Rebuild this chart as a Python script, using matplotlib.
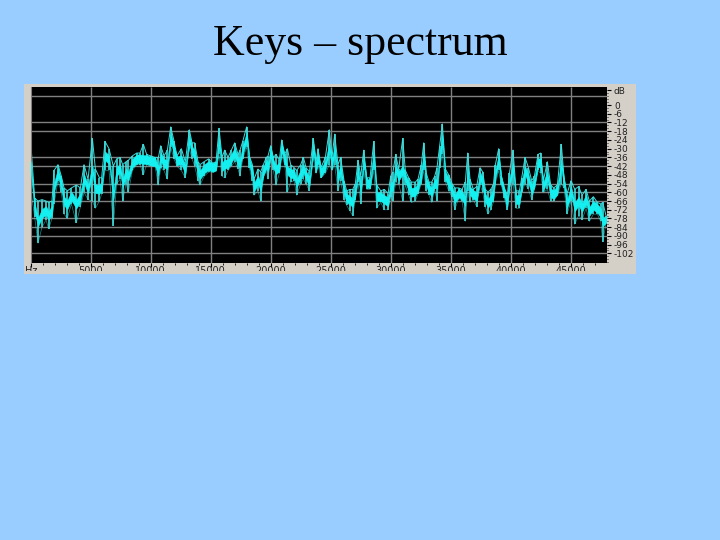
import matplotlib
matplotlib.use("Agg")
import matplotlib.pyplot as plt
import numpy as np
from matplotlib.patches import Rectangle
from matplotlib.transforms import Bbox

# top and bottom of the trace at each frequency
freq = [0, 330, 610, 940, 1275, 1500, 1775, 1945, 2275, 2555, 2780, 3055, 3390, 3805, 4140, 4445, 4780, 5140, 5390, 5725,
        5915, 6190, 6525, 6885, 7165, 7445, 7665, 7945, 8140, 8470, 8835, 9110, 9390, 9665, 10000, 10360, 10640, 10835, 11110, 11390, 11670, 11945,
        12190, 12555, 12885, 13220, 13445, 13665, 13945, 14110, 14445, 14835, 15165, 15445, 15695, 15945, 16165, 16445, 16725, 17000, 17280, 17445, 17670,
        17995, 18220, 18470, 18610, 18940, 19165, 19385, 19640, 19775, 20000, 20220, 20445, 20720, 20915, 21165, 21390, 21665, 21945, 22165, 22500, 22725, 22945, 23225, 23555, 23780, 23945,
        24190, 24555, 24885, 25110, 25330, 25610, 25830, 26110, 26330, 26610, 26835, 27055, 27280, 27500, 27750, 28000, 28280, 28585, 28835, 29170, 29475, 29780, 30000,
        30190, 30415, 30665, 31000, 31220, 31500, 31720, 32055, 32275, 32555, 32750, 32970, 33195, 33415, 33665, 33860, 34085, 34305, 34555, 34835, 35110, 35335, 35670, 35945,
        36220, 36415, 36610, 36885, 37165, 37445, 37665, 37890, 38110, 38330, 38555, 38720, 39000, 39220, 39470, 39720, 39890, 40195, 40445, 40725, 40920, 41195, 41475, 41750, 41975,
        42275, 42500, 42720, 43055, 43330, 43580, 43890, 44220, 44445, 44695, 45030, 45335, 45665, 45945, 46280, 46555, 46890, 47225, 47500, 47670, 47945]
top_db = [-25, -64, -66, -65, -66, -67, -66, -45, -41, -49, -57, -59, -57, -55, -57, -41, -51, -23, -44, -50,
          -50, -25, -30, -42, -37, -36, -41, -39, -38, -35, -33, -33, -27, -34, -35, -36, -36, -28, -35, -31, -15, -25,
          -35, -30, -39, -17, -26, -26, -39, -41, -39, -37, -40, -39, -16, -36, -31, -36, -31, -26, -34, -31, -25,
          -15, -35, -41, -51, -44, -46, -41, -36, -35, -28, -36, -34, -38, -24, -34, -30, -41, -43, -45, -41, -36, -43, -46, -23, -39, -30,
          -43, -36, -17, -36, -20, -41, -36, -52, -59, -58, -58, -54, -38, -49, -31, -50, -50, -25, -55, -59, -58, -61, -49,
          -46, -34, -44, -23, -45, -50, -53, -53, -51, -41, -26, -47, -53, -53, -49, -43, -28, -13, -44, -48, -54, -57, -57, -58,
          -53, -33, -51, -58, -56, -43, -46, -58, -60, -58, -55, -41, -30, -49, -57, -62, -47, -31, -59, -59, -50, -36, -43, -52, -49,
          -34, -33, -52, -39, -55, -57, -55, -27, -50, -61, -52, -58, -56, -62, -58, -66, -63, -67, -68, -67, -76]
bottom_db = [-58, -77, -95, -84, -79, -85, -78, -68, -52, -60, -75, -78, -68, -81, -70, -60, -65, -66, -71, -66,
             -61, -45, -45, -83, -54, -51, -66, -54, -60, -45, -41, -41, -48, -41, -42, -42, -55, -43, -45, -51, -29, -37,
             -42, -45, -50, -30, -37, -42, -52, -55, -49, -46, -46, -45, -34, -49, -50, -45, -42, -39, -44, -49, -37,
             -29, -43, -52, -62, -59, -66, -50, -45, -51, -37, -45, -55, -47, -34, -41, -60, -53, -52, -62, -54, -51, -54, -59, -36, -47, -41,
             -50, -47, -41, -45, -41, -59, -52, -65, -69, -73, -76, -65, -53, -68, -45, -58, -58, -45, -71, -67, -72, -72, -63,
             -66, -53, -54, -66, -55, -62, -67, -66, -61, -54, -45, -59, -62, -67, -58, -66, -43, -34, -53, -59, -63, -72, -64, -66,
             -80, -59, -67, -65, -70, -55, -60, -70, -75, -72, -67, -54, -45, -55, -64, -72, -60, -54, -71, -71, -60, -54, -58, -65, -58,
             -45, -47, -60, -58, -66, -66, -62, -54, -57, -75, -66, -82, -76, -79, -71, -80, -75, -75, -80, -94, -81]

x_ticks = [0, 5000, 10000, 15000, 20000, 25000, 30000, 35000, 40000, 45000]
x_labels = ["Hz", "5000", "10000", "15000", "20000", "25000", "30000", "35000", "40000", "45000"]
x_grid = [5000, 10000, 15000, 20000, 25000, 30000, 35000, 40000, 45000]
db_ticks = [10, 0, -6, -12, -18, -24, -30, -36, -42, -48, -54, -60, -66, -72, -78, -84, -90, -96, -102]
db_labels = ["dB", "0", "-6", "-12", "-18", "-24", "-30", "-36", "-42", "-48", "-54", "-60", "-66", "-72", "-78", "-84", "-90", "-96", "-102"]
db_grid = [6, -12, -18, -36, -42, -54, -60, -66, -78, -84, -90, -102]

W, H = 720, 540
fig = plt.figure(figsize=(W / 100, H / 100), dpi=100, facecolor="#99ccff")
fig.text(0.5, 1 - 44.5 / H, "Keys \u2013 spectrum", ha="center", va="center",
         family="Liberation Serif", fontsize=31.6, color="black")

# grey window of the audio editor
fig.add_artist(Rectangle((24 / W, 1 - 274 / H), 612 / W, 190 / H, transform=fig.transFigure,
                         facecolor="#d4d0c8", edgecolor="none", zorder=-1))

ax = fig.add_axes([30.7 / W, 1 - 263 / H, (607 - 30.7) / W, 176 / H], facecolor="black", zorder=2)
ax.set_xlim(0, 48025)
ax.set_ylim(-108.6, 12.4)

ax.hlines(db_grid, 0, 48025, color="#808080", lw=1, zorder=1)
ax.vlines(x_grid, -108.6, 12.4, color="#808080", lw=1, zorder=1)

# spikes and edges of the trace, then a solid core along its middle
top = np.array(top_db, dtype=float)
bottom = np.array(bottom_db, dtype=float)
mid = (top + bottom) / 2
core_hi = np.minimum(mid + 3, top)
core_lo = np.maximum(mid - 3, bottom)
ax.vlines(freq, bottom, top, color="#3fdcdc", lw=1.2, zorder=2)
ax.plot(freq, top, color="#3fdcdc", lw=0.7, zorder=2)
ax.plot(freq, bottom, color="#3fdcdc", lw=0.5, alpha=0.6, zorder=2)
ax.fill_between(freq, core_lo, core_hi, color="#14f0f0", lw=0.4, zorder=3)

ax.set_xticks(x_ticks)
ax.set_xticklabels(x_labels)
ax.set_xticks(np.arange(0, 48000, 1000), minor=True)
ax.yaxis.tick_right()
ax.set_yticks(db_ticks)
ax.set_yticklabels(db_labels)
ax.set_yticks(np.arange(-108, 12, 2), minor=True)
ax.tick_params(axis="x", which="major", length=3, width=0.8, labelsize=7, pad=-1, color="black", labelcolor="#222222")
ax.tick_params(axis="x", which="minor", length=1.5, width=0.6, color="black")
ax.tick_params(axis="y", which="major", length=3, width=0.8, labelsize=6.5, pad=2, color="black", labelcolor="#222222")
ax.tick_params(axis="y", which="minor", length=1, width=0.6, color="black")
for s in ax.spines.values():
    s.set_visible(False)
ax.spines["left"].set_visible(True)
ax.spines["left"].set_color("#808080")

# the screenshot cuts the frequency labels off at the bottom
clip = Bbox([[0, H - 271], [W, H]])
for lab in ax.get_xticklabels():
    lab.set_clip_box(clip)
    lab.set_clip_on(True)

fig.savefig("out.png", dpi=100, facecolor=fig.get_facecolor())
